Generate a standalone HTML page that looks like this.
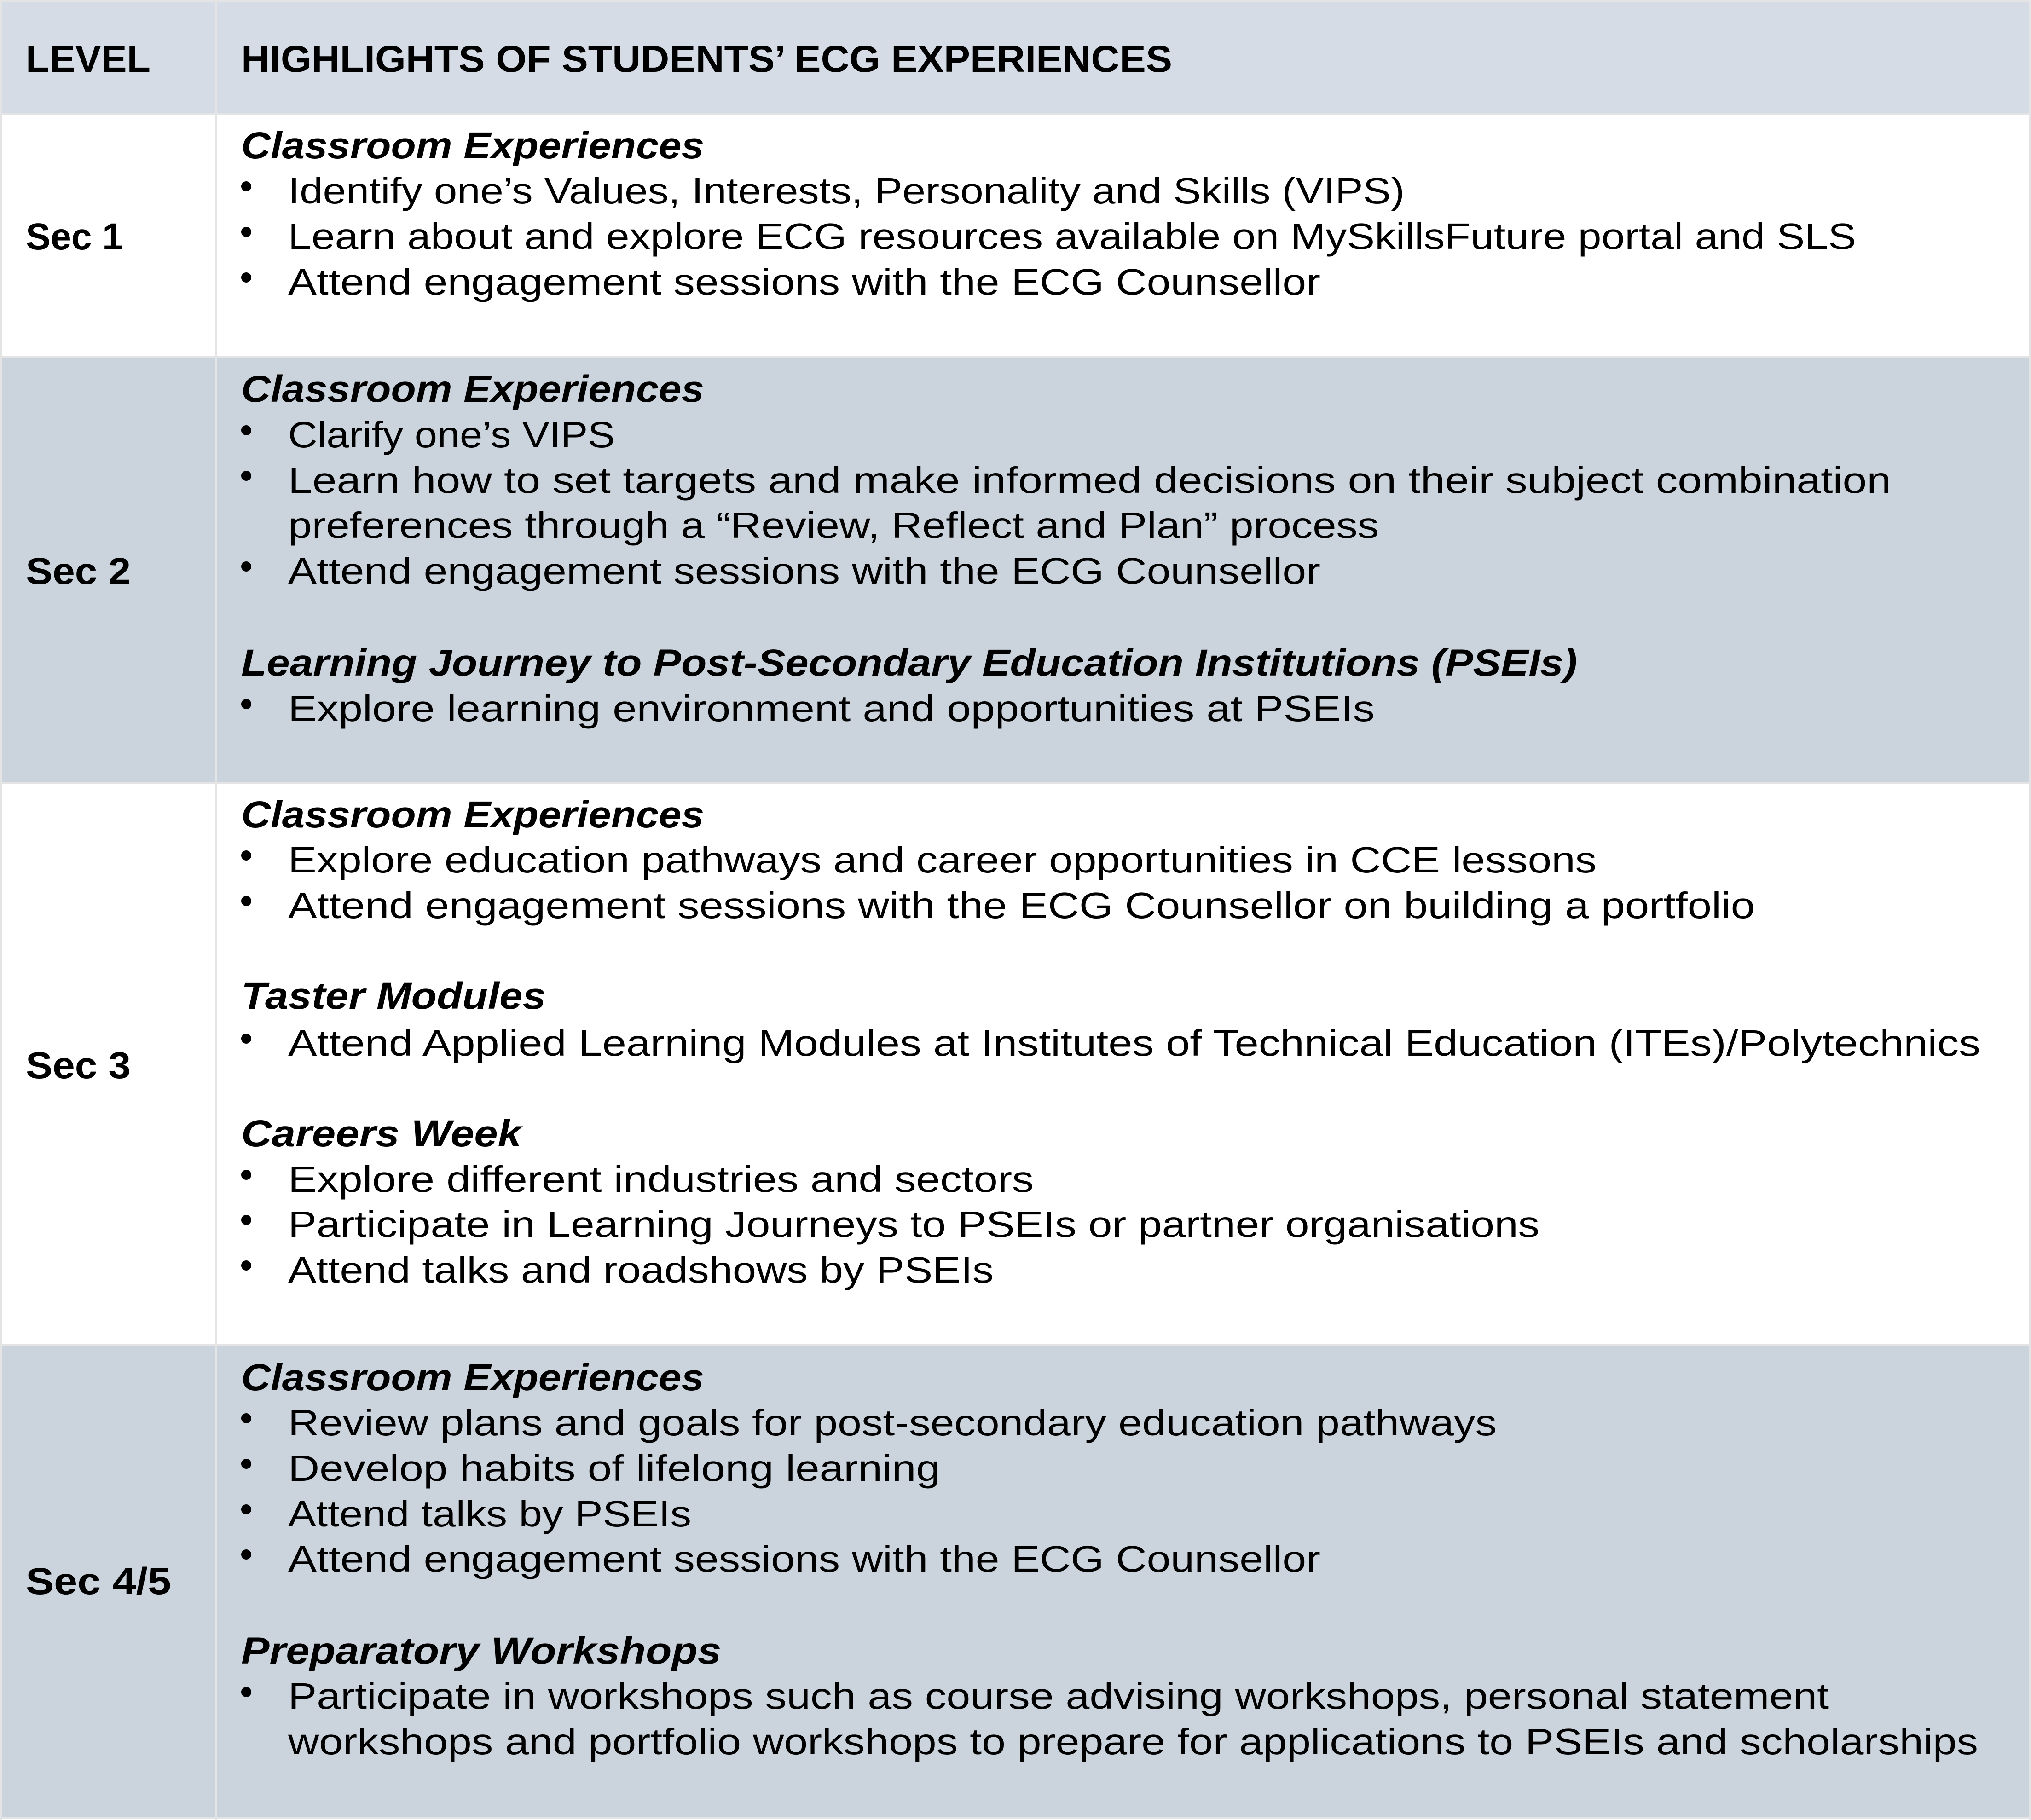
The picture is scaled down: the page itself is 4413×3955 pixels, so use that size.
<!DOCTYPE html>
<html><head><meta charset="utf-8"><style>
html,body{margin:0;padding:0;background:#fff;}
svg{display:block;}
text{font-family:"Liberation Sans",sans-serif;fill:#000;}
.h{font-weight:bold;font-size:82px;}
.sub{font-weight:bold;font-style:italic;font-size:82px;}
.b{font-size:80px;}
.lv{font-weight:bold;font-size:82px;}
</style></head><body>
<svg width="4413" height="3955" viewBox="0 0 4413 3955">
<g>
<rect x="0" y="0" width="4413" height="248" fill="#d5dce5"/>
<rect x="0" y="248" width="4413" height="527" fill="#ffffff"/>
<rect x="0" y="775" width="4413" height="927" fill="#cbd3dc"/>
<rect x="0" y="1702" width="4413" height="1220" fill="#ffffff"/>
<rect x="0" y="2922" width="4413" height="1027" fill="#cbd3dc"/>
</g>
<g stroke="#e4e4e4" stroke-width="4">
<line x1="469" y1="0" x2="469" y2="3955"/>
<line x1="0" y1="248" x2="4413" y2="248"/>
<line x1="0" y1="775" x2="4413" y2="775"/>
<line x1="0" y1="1702" x2="4413" y2="1702"/>
<line x1="0" y1="2922" x2="4413" y2="2922"/>
<line x1="0" y1="3951" x2="4413" y2="3951"/>
<line x1="2" y1="0" x2="2" y2="3955"/>
<line x1="4411" y1="0" x2="4411" y2="3955"/>
<line x1="0" y1="2" x2="4413" y2="2"/>
</g>
<text class="h" x="56" y="156" textLength="271" lengthAdjust="spacingAndGlyphs">LEVEL</text>
<text class="h" x="524" y="156" textLength="2023" lengthAdjust="spacingAndGlyphs">HIGHLIGHTS OF STUDENTS’ ECG EXPERIENCES</text>

<text class="lv" x="56" y="542" textLength="211" lengthAdjust="spacingAndGlyphs">Sec 1</text>
<text class="lv" x="56" y="1269" textLength="228" lengthAdjust="spacingAndGlyphs">Sec 2</text>
<text class="lv" x="56" y="2343" textLength="228" lengthAdjust="spacingAndGlyphs">Sec 3</text>
<text class="lv" x="56" y="3464" textLength="316" lengthAdjust="spacingAndGlyphs">Sec 4/5</text>

<g>
<text class="sub" x="524" y="344" textLength="1006" lengthAdjust="spacingAndGlyphs">Classroom Experiences</text>
<circle cx="535" cy="405" r="11"/>
<text class="b" x="626" y="442" textLength="2426" lengthAdjust="spacingAndGlyphs">Identify one’s Values, Interests, Personality and Skills (VIPS)</text>
<circle cx="535" cy="504" r="11"/>
<text class="b" x="626" y="541" textLength="3407" lengthAdjust="spacingAndGlyphs">Learn about and explore ECG resources available on MySkillsFuture portal and SLS</text>
<circle cx="535" cy="603" r="11"/>
<text class="b" x="626" y="640" textLength="2243" lengthAdjust="spacingAndGlyphs">Attend engagement sessions with the ECG Counsellor</text>
</g>

<g>
<text class="sub" x="524" y="873" textLength="1006" lengthAdjust="spacingAndGlyphs">Classroom Experiences</text>
<circle cx="535" cy="935" r="11"/>
<text class="b" x="626" y="972" textLength="710" lengthAdjust="spacingAndGlyphs">Clarify one’s VIPS</text>
<circle cx="535" cy="1034" r="11"/>
<text class="b" x="626" y="1071" textLength="3483" lengthAdjust="spacingAndGlyphs">Learn how to set targets and make informed decisions on their subject combination</text>
<text class="b" x="626" y="1169" textLength="2370" lengthAdjust="spacingAndGlyphs">preferences through a “Review, Reflect and Plan” process</text>
<circle cx="535" cy="1231" r="11"/>
<text class="b" x="626" y="1268" textLength="2243" lengthAdjust="spacingAndGlyphs">Attend engagement sessions with the ECG Counsellor</text>
<text class="sub" x="524" y="1468" textLength="2903" lengthAdjust="spacingAndGlyphs">Learning Journey to Post-Secondary Education Institutions (PSEIs)</text>
<circle cx="535" cy="1530" r="11"/>
<text class="b" x="626" y="1567" textLength="2361" lengthAdjust="spacingAndGlyphs">Explore learning environment and opportunities at PSEIs</text>
</g>

<g>
<text class="sub" x="524" y="1798" textLength="1006" lengthAdjust="spacingAndGlyphs">Classroom Experiences</text>
<circle cx="535" cy="1859" r="11"/>
<text class="b" x="626" y="1896" textLength="2843" lengthAdjust="spacingAndGlyphs">Explore education pathways and career opportunities in CCE lessons</text>
<circle cx="535" cy="1958" r="11"/>
<text class="b" x="626" y="1995" textLength="3187" lengthAdjust="spacingAndGlyphs">Attend engagement sessions with the ECG Counsellor on building a portfolio</text>
<text class="sub" x="524" y="2192" textLength="662" lengthAdjust="spacingAndGlyphs">Taster Modules</text>
<circle cx="535" cy="2257" r="11"/>
<text class="b" x="626" y="2294" textLength="3677" lengthAdjust="spacingAndGlyphs">Attend Applied Learning Modules at Institutes of Technical Education (ITEs)/Polytechnics</text>
<text class="sub" x="524" y="2491" textLength="609" lengthAdjust="spacingAndGlyphs">Careers Week</text>
<circle cx="535" cy="2553" r="11"/>
<text class="b" x="626" y="2590" textLength="1620" lengthAdjust="spacingAndGlyphs">Explore different industries and sectors</text>
<circle cx="535" cy="2651" r="11"/>
<text class="b" x="626" y="2688" textLength="2719" lengthAdjust="spacingAndGlyphs">Participate in Learning Journeys to PSEIs or partner organisations</text>
<circle cx="535" cy="2750" r="11"/>
<text class="b" x="626" y="2787" textLength="1533" lengthAdjust="spacingAndGlyphs">Attend talks and roadshows by PSEIs</text>
</g>

<g>
<text class="sub" x="524" y="3021" textLength="1006" lengthAdjust="spacingAndGlyphs">Classroom Experiences</text>
<circle cx="535" cy="3082" r="11"/>
<text class="b" x="626" y="3119" textLength="2626" lengthAdjust="spacingAndGlyphs">Review plans and goals for post-secondary education pathways</text>
<circle cx="535" cy="3181" r="11"/>
<text class="b" x="626" y="3218" textLength="1417" lengthAdjust="spacingAndGlyphs">Develop habits of lifelong learning</text>
<circle cx="535" cy="3280" r="11"/>
<text class="b" x="626" y="3317" textLength="876" lengthAdjust="spacingAndGlyphs">Attend talks by PSEIs</text>
<circle cx="535" cy="3378" r="11"/>
<text class="b" x="626" y="3415" textLength="2243" lengthAdjust="spacingAndGlyphs">Attend engagement sessions with the ECG Counsellor</text>
<text class="sub" x="524" y="3615" textLength="1043" lengthAdjust="spacingAndGlyphs">Preparatory Workshops</text>
<circle cx="535" cy="3677" r="11"/>
<text class="b" x="626" y="3713" textLength="3348" lengthAdjust="spacingAndGlyphs">Participate in workshops such as course advising workshops, personal statement</text>
<text class="b" x="626" y="3812" textLength="3672" lengthAdjust="spacingAndGlyphs">workshops and portfolio workshops to prepare for applications to PSEIs and scholarships</text>
</g>
</svg>
</body></html>
